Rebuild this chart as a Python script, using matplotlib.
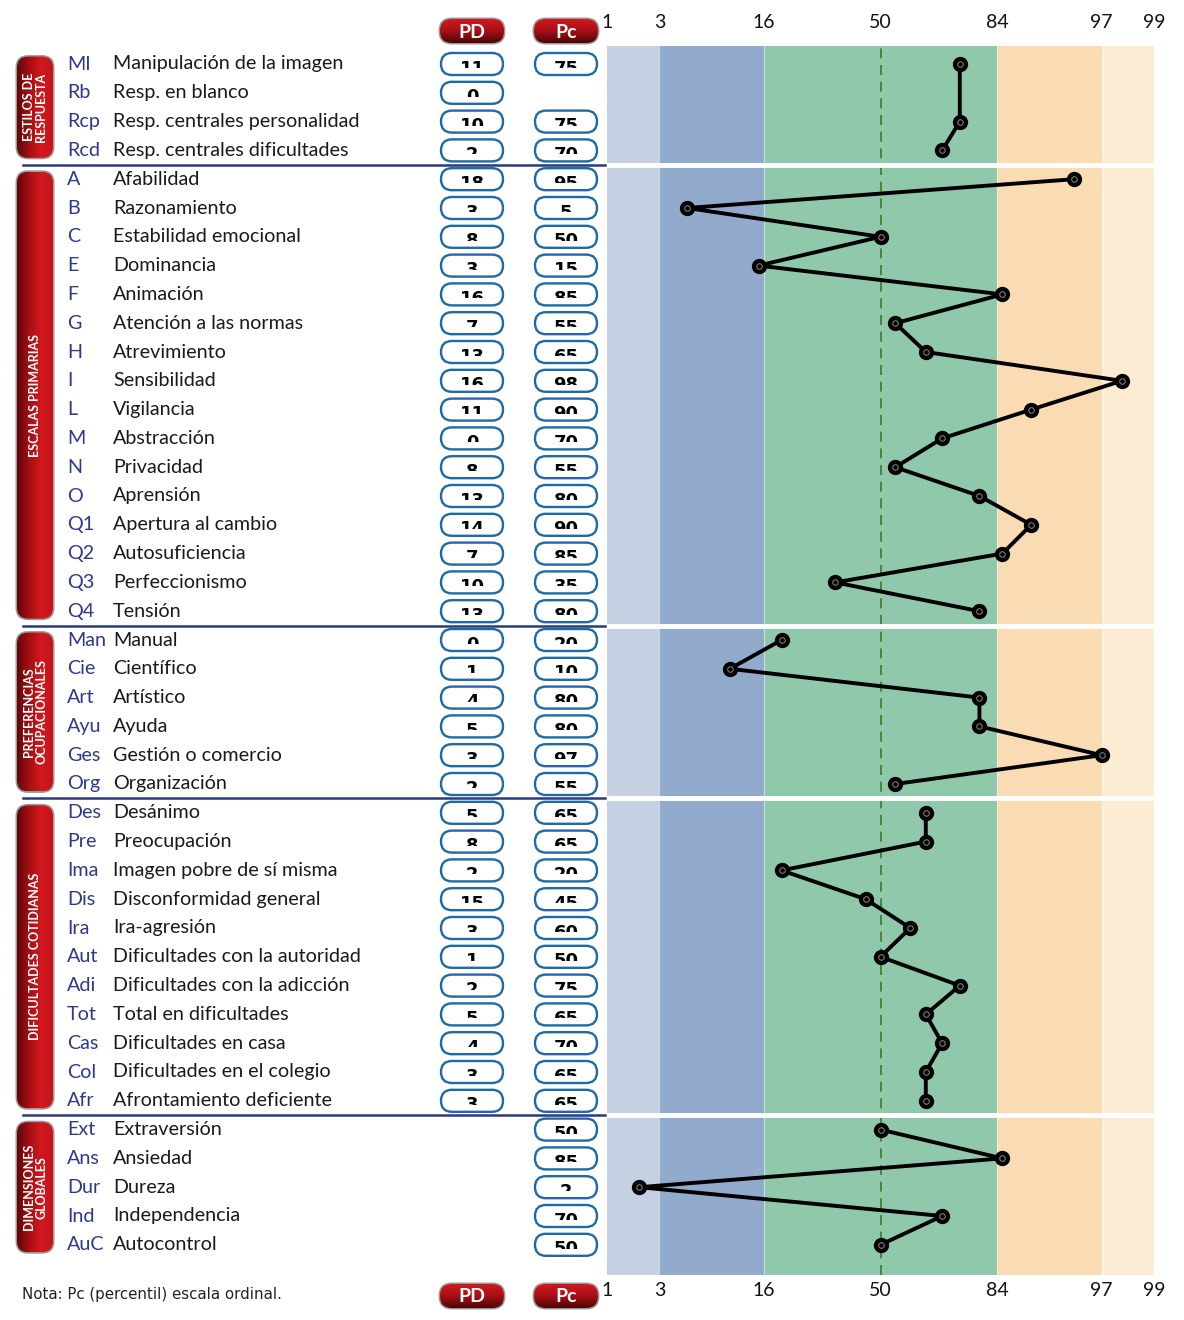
import numpy as np
import matplotlib
matplotlib.use("Agg")
import matplotlib.pyplot as plt
from matplotlib.patches import FancyBboxPatch
from matplotlib.colors import LinearSegmentedColormap
from matplotlib.transforms import Bbox, TransformedBbox, blended_transform_factory
from matplotlib.ticker import NullLocator
from statistics import NormalDist

plt.rcParams["font.family"] = ["Lato", "DejaVu Sans"]

# Datos ──────────────────────────────────────────────
abrev = ["MI", "Rb", "Rcp", "Rcd",
         "A", "B", "C", "E", "F", "G", "H", "I", "L", "M", "N", "O", "Q1", "Q2", "Q3", "Q4",
         "Man", "Cie", "Art", "Ayu", "Ges", "Org",
         "Des", "Pre", "Ima", "Dis", "Ira", "Aut", "Adi", "Tot", "Cas", "Col", "Afr",
         "Ext", "Ans", "Dur", "Ind", "AuC"]
nombres = ["Manipulación de la imagen", "Resp. en blanco", "Resp. centrales personalidad",
           "Resp. centrales dificultades",
           "Afabilidad", "Razonamiento", "Estabilidad emocional", "Dominancia", "Animación",
           "Atención a las normas", "Atrevimiento", "Sensibilidad", "Vigilancia", "Abstracción",
           "Privacidad", "Aprensión", "Apertura al cambio", "Autosuficiencia", "Perfeccionismo",
           "Tensión",
           "Manual", "Científico", "Artístico", "Ayuda", "Gestión o comercio", "Organización",
           "Desánimo", "Preocupación", "Imagen pobre de sí misma", "Disconformidad general",
           "Ira-agresión", "Dificultades con la autoridad", "Dificultades con la adicción",
           "Total en dificultades", "Dificultades en casa", "Dificultades en el colegio",
           "Afrontamiento deficiente",
           "Extraversión", "Ansiedad", "Dureza", "Independencia", "Autocontrol"]
pd_vals = [11, 0, 10, 2,
           18, 3, 8, 3, 16, 7, 13, 16, 11, 0, 8, 13, 14, 7, 10, 13,
           0, 1, 4, 5, 3, 2,
           5, 8, 2, 15, 3, 1, 2, 5, 4, 3, 3,
           None, None, None, None, None]
pc_vals = [75, None, 75, 70,
           95, 5, 50, 15, 85, 55, 65, 98, 90, 70, 55, 80, 90, 85, 35, 80,
           20, 10, 80, 80, 97, 55,
           65, 65, 20, 45, 60, 50, 75, 65, 70, 65, 65,
           50, 85, 2, 70, 50]
grupos = ["ESTILOS DE\nRESPUESTA", "ESCALAS PRIMARIAS", "PREFERENCIAS\nOCUPACIONALES",
          "DIFICULTADES COTIDIANAS", "DIMENSIONES\nGLOBALES"]
grupo_n = [4, 16, 6, 11, 5]

ticks = [1, 3, 16, 50, 84, 97, 99]
bandas = [(1, 3), (3, 16), (16, 84), (84, 97), (97, 99)]
colores_banda = ["#c5d0e2", "#92abcd", "#8fc8ab", "#f9dcb3", "#fdecd4"]

# Geometría ──────────────────────────────────────────────
W, H = 1184, 1320
ROW0, ROWH = 64, 28.8
X0, X1, Y0, Y1 = 607, 1154, 46, 1275
PD_X, PC_X = 472, 566


def row_y(i):
    return ROW0 + ROWH * i


nd = NormalDist()
fwd = np.vectorize(lambda p: nd.inv_cdf(min(max(p, 1e-6), 100 - 1e-6) / 100.0), otypes=[float])
inv = np.vectorize(lambda z: nd.cdf(z) * 100.0, otypes=[float])

fig = plt.figure(figsize=(W / 100, H / 100), dpi=100)
bg = fig.add_axes([0, 0, 1, 1])
bg.set_xlim(0, W); bg.set_ylim(H, 0); bg.axis("off")

ax = fig.add_axes([X0 / W, 1 - Y1 / H, (X1 - X0) / W, (Y1 - Y0) / H])
ax.set_xscale("function", functions=(fwd, inv))
ax.set_xlim(1, 99)
ax.set_ylim((Y1 - ROW0) / ROWH, (Y0 - ROW0) / ROWH)
for s in ax.spines.values():
    s.set_visible(False)
ax.set_yticks([])
ax.set_xticks([])
ax.xaxis.set_minor_locator(NullLocator())

# Bandas de percentil
for (a, b), c in zip(bandas, colores_banda):
    ax.axvspan(a, b, color=c, lw=0, zorder=0)
for t in [3, 16, 84, 97]:
    ax.axvline(t, color="white", lw=0.8, alpha=0.5, zorder=1)
ax.axvline(50, color="#3d7a1f", lw=1.2, ls=(0, (6, 4)), zorder=2)

# Separadores de grupo
cum = np.cumsum(grupo_n)
for b in cum[:-1]:
    ax.axhline(b - 0.5, color="white", lw=3.5, zorder=3)
    bg.plot([23, 605], [row_y(b - 0.5)] * 2, color="#2b3a80", lw=1.8, zorder=2)

# Perfil (una línea por grupo)
inicio = 0
for n in grupo_n:
    filas = [i for i in range(inicio, inicio + n) if pc_vals[i] is not None]
    xs = [pc_vals[i] for i in filas]
    ax.plot(xs, filas, color="black", lw=2.8, zorder=4, solid_capstyle="round")
    ax.plot(xs, filas, "o", ms=10, mfc="black", mec="black", zorder=5)
    ax.plot(xs, filas, "o", ms=4, mfc="none", mec="#7a7a7a", mew=0.8, zorder=6)
    inicio += n

# Etiquetas de percentil arriba y abajo
tr = blended_transform_factory(ax.transData, bg.transData)
for t in ticks:
    for yy in (22, 1291):
        bg.text(t, yy, str(t), transform=tr, ha="center", va="center", fontsize=14,
                color="#111111")

# Cápsulas con degradado
rojo_h = LinearSegmentedColormap.from_list("rh", ["#5e0707", "#a50f14", "#d2181e", "#c4151a"])
rojo_v = LinearSegmentedColormap.from_list("rv", ["#d0191f", "#a81016", "#4a0505"])


def capsula(x0, y0, w, h, r, cmap, horizontal):
    sombra = FancyBboxPatch((x0 - 1.5, y0 - 1.5), w + 3, h + 3,
                            boxstyle=f"round,pad=0,rounding_size={r + 1.5}",
                            fc="#9a9a9a", ec="none", zorder=2)
    bg.add_patch(sombra)
    patch = FancyBboxPatch((x0, y0), w, h, boxstyle=f"round,pad=0,rounding_size={r}",
                           fc="none", ec="none", zorder=3)
    bg.add_patch(patch)
    grad = np.linspace(0, 1, 128)
    grad = grad.reshape(1, -1) if horizontal else grad.reshape(-1, 1)
    im = bg.imshow(grad, extent=(x0, x0 + w, y0 + h, y0), cmap=cmap, aspect="auto",
                   zorder=3, interpolation="bilinear")
    im.set_clip_path(patch)


for cx, lab in [(PD_X, "PD"), (PC_X, "Pc")]:
    for cy in (31, 1296):
        capsula(cx - 32, cy - 12, 64, 24, 12, rojo_v, False)
        bg.text(cx, cy + 1, lab, ha="center", va="center", color="white", fontsize=14,
                fontweight="bold", zorder=4)

inicio = 0
for g, n in zip(grupos, grupo_n):
    ya = row_y(inicio - 0.5) + 7
    yb = row_y(inicio + n - 0.5) - 7
    capsula(17, ya, 36, yb - ya, 11, rojo_h, True)
    bg.text(35, (ya + yb) / 2, g, rotation=90, ha="center", va="center", color="white",
            fontsize=9, fontweight="bold", linespacing=1.05, zorder=4)
    inicio += n

# Filas: abreviatura, nombre, PD y Pc
for i, (ab, nom) in enumerate(zip(abrev, nombres)):
    y = row_y(i)
    bg.text(67, y, ab, ha="left", va="center", color="#2d3a8c", fontsize=14.2)
    bg.text(113, y, nom, ha="left", va="center", color="#1a1a1a", fontsize=14.2)
    for cx, v in [(PD_X, pd_vals[i]), (PC_X, pc_vals[i])]:
        if v is None:
            continue
        bg.add_patch(FancyBboxPatch((cx - 31, y - 11), 62, 22,
                                    boxstyle="round,pad=0,rounding_size=11",
                                    fc="white", ec="#1c6aa6", lw=1.7, zorder=3))
        t = bg.text(cx, y + 9.5, str(v), ha="center", va="baseline", fontsize=13,
                    fontweight="bold", color="black", zorder=4, clip_on=True,
                    family="DejaVu Sans")
        t.set_clip_box(TransformedBbox(Bbox([[cx - 30, y - 10], [cx + 30, y + 4]]),
                                       bg.transData))

bg.text(22, 1295, "Nota: Pc (percentil) escala ordinal.", ha="left", va="center",
        fontsize=10.8, color="#222222", family="DejaVu Sans")

bg.set_xlim(0, W); bg.set_ylim(H, 0)
fig.savefig("out.png", dpi=100)
